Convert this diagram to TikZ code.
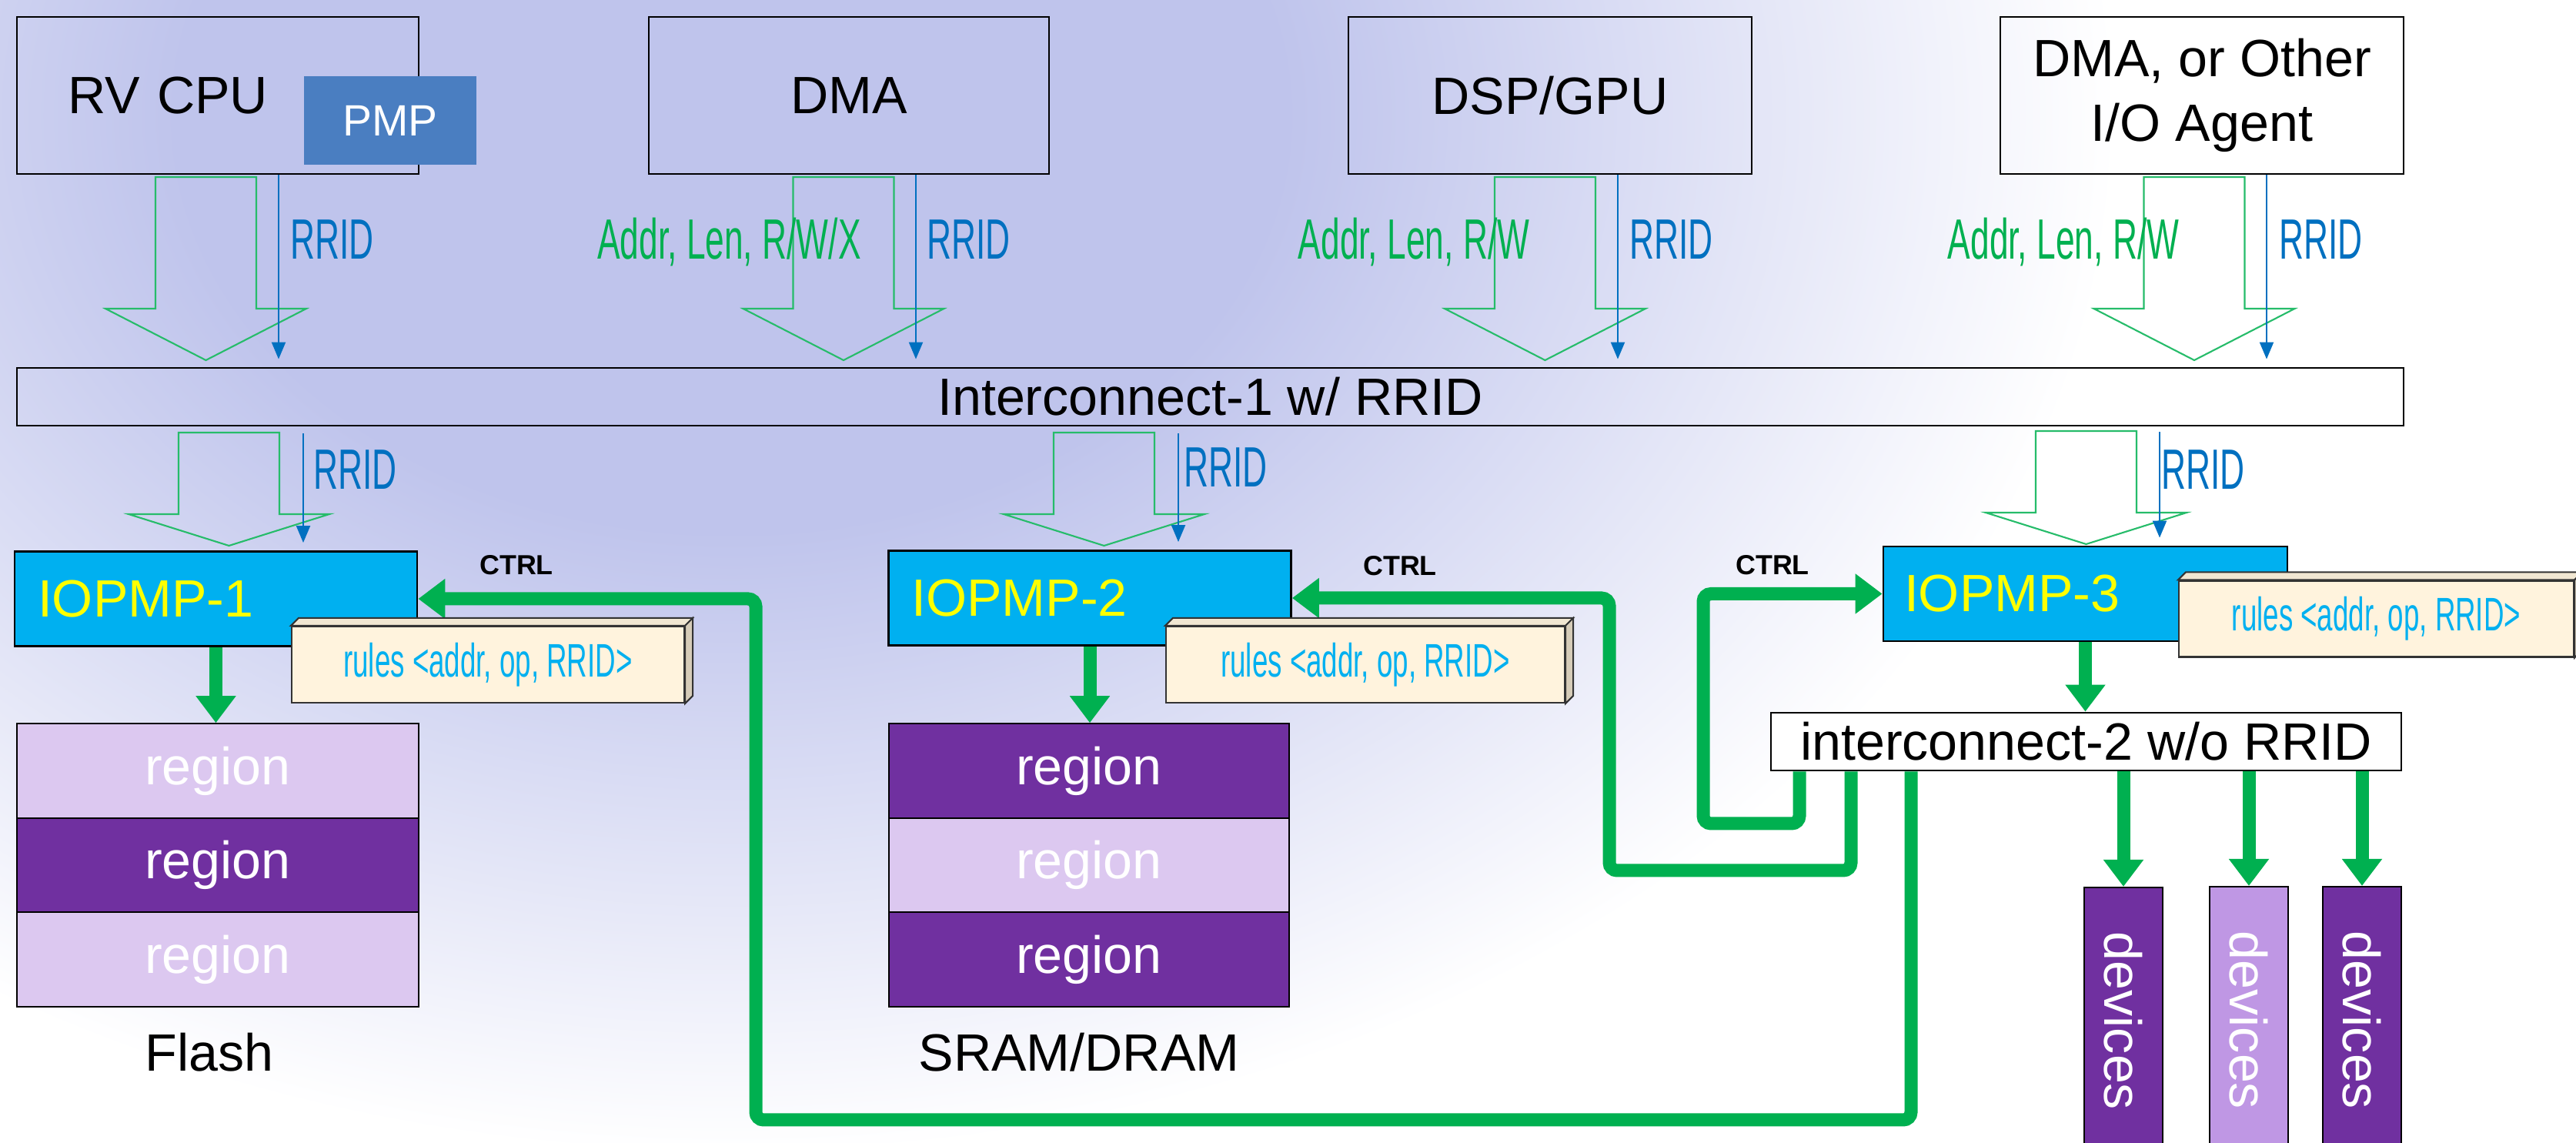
\documentclass[tikz,border=0pt]{standalone}
\usepackage{fontspec}
\setmainfont{Liberation Sans}
\newfontfamily\narrowfont[FakeStretch=0.6]{Liberation Sans}
\usepackage{tikz}
\usetikzlibrary{arrows.meta,positioning,calc}
\definecolor{bglav}{HTML}{BFC4EC}
\definecolor{flowgreen}{HTML}{00B050}
\definecolor{rridblue}{HTML}{0070C0}
\definecolor{pmpblue}{HTML}{4A7EC1}
\definecolor{iopmpcyan}{HTML}{00B0F0}
\definecolor{iopmptext}{HTML}{FFFF00}
\definecolor{rulecream}{HTML}{FFF3DD}
\definecolor{ruletop}{HTML}{F1E7D2}
\definecolor{ruleside}{HTML}{D6CCB8}
\definecolor{regdark}{HTML}{7030A0}
\definecolor{reglight}{HTML}{DCC8F0}
\definecolor{devlight}{HTML}{BF97E4}
\pgfdeclareradialshading{bgglow}{\pgfpointorigin}{color(0bp)=(bglav); color(10bp)=(bglav); color(25bp)=(white); color(50bp)=(white)}

\begin{document}
\begin{tikzpicture}[
  font=\fontsize{19.4pt}{23.9pt}\selectfont,
  agent/.style={draw=black, line width=0.8pt, inner xsep=0pt, inner ysep=0pt, minimum height=2.04cm, align=center},
  pmpbox/.style={fill=pmpblue, text=white, minimum width=2.24cm, minimum height=1.15cm, inner sep=0pt,
                 font=\fontsize{16.2pt}{19pt}\selectfont},
  bus/.style={draw=black, line width=0.8pt, inner sep=0pt, minimum height=0.75cm},
  iopmp/.style={draw=black, line width=0.8pt, fill=iopmpcyan, text=iopmptext, minimum height=1.23cm,
                inner ysep=0pt, inner xsep=0.30cm, align=left, text width=4.63cm},
  rules/.style={draw=black!80, line width=0.6pt, fill=rulecream, text=iopmpcyan, minimum height=0.99cm,
                inner sep=0pt, font=\narrowfont\fontsize{17.4pt}{20pt}\selectfont},
  ruletopface/.style={draw=black!80, line width=0.6pt, fill=ruletop},
  rulesideface/.style={draw=black!80, line width=0.6pt, fill=ruleside},
  region/.style={draw=black, line width=0.6pt, minimum width=5.22cm, minimum height=1.225cm, inner sep=0pt, text=white},
  device/.style={draw=black, line width=0.6pt, minimum width=1.02cm, minimum height=3.47cm, inner sep=0pt, text=white},
  memlbl/.style={inner sep=0pt},
  hollow/.style={draw=flowgreen!85!white, line width=0.6pt},
  rrid/.style={draw=rridblue, line width=0.6pt, shorten >=0.1cm, -{Triangle[length=0.22cm, width=0.18cm]}},
  flow/.style={draw=flowgreen, line width=0.17cm, -{Triangle[length=0.35cm, width=0.5cm]}},
  ctrl/.style={flow, rounded corners=0.1cm},
  rridlbl/.style={text=rridblue, font=\narrowfont\fontsize{21pt}{24pt}\selectfont, inner sep=0pt, anchor=base west},
  addrlbl/.style={text=flowgreen, font=\narrowfont\fontsize{21pt}{24pt}\selectfont, inner sep=0pt, anchor=base},
  ctrllbl/.style={font=\bfseries\fontsize{10.2pt}{12pt}\selectfont, inner sep=0pt},
]
\useasboundingbox (0,0) rectangle (33.47,-14.85);
\clip (0,0) rectangle (33.47,-14.85);
% background
\fill[white] (0,0) rectangle (33.47,-14.85);
\shade[shading=bgglow] (-8.5,-15) rectangle (27.5,12);

% I/O agents
\node[agent, minimum width=5.22cm, text width=3.90cm, inner xsep=0.66cm, align=left] (cpu) at (2.83,-1.24) {RV CPU};
\node[pmpbox] (pmp) at (5.07,-1.565) {PMP};
\node[agent, minimum width=5.20cm] (dma) at (11.03,-1.24) {DMA};
\node[agent, minimum width=5.24cm] (dsp) at (20.14,-1.24) {DSP/GPU};
\node[agent, minimum width=5.24cm] (oth) at (28.61,-1.24) {DMA, or Other\\I/O Agent};

\node[bus, minimum width=31.01cm] (ic1) at (15.725,-5.155) {Interconnect-1 w/ RRID};

% transactions into interconnect-1
\draw[hollow] (2.02,-2.30) -- (3.33,-2.30) -- (3.33,-4.01) -- (3.98,-4.01) -- (2.675,-4.68) -- (1.37,-4.01) -- (2.02,-4.01) -- cycle;
\draw[hollow] (10.305,-2.30) -- (11.615,-2.30) -- (11.615,-4.01) -- (12.265,-4.01) -- (10.96,-4.68) -- (9.655,-4.01) -- (10.305,-4.01) -- cycle;
\draw[hollow] (19.42,-2.30) -- (20.73,-2.30) -- (20.73,-4.01) -- (21.38,-4.01) -- (20.075,-4.68) -- (18.77,-4.01) -- (19.42,-4.01) -- cycle;
\draw[hollow] (27.855,-2.30) -- (29.165,-2.30) -- (29.165,-4.01) -- (29.815,-4.01) -- (28.51,-4.68) -- (27.205,-4.01) -- (27.855,-4.01) -- cycle;
\draw[rrid] (3.62,0 |- cpu.south) -- (3.62,0 |- ic1.north);
\draw[rrid] (11.90,0 |- dma.south) -- (11.90,0 |- ic1.north);
\draw[rrid] (21.02,0 |- dsp.south) -- (21.02,0 |- ic1.north);
\draw[rrid] (29.45,0 |- oth.south) -- (29.45,0 |- ic1.north);
\node[rridlbl] (rr1) at (3.77,-3.37) {RRID};
\node[addrlbl] (ad2) at (9.475,-3.37) {Addr, Len, R/W/X};
\node[rridlbl] (rr2) at (12.04,-3.37) {RRID};
\node[addrlbl] (ad3) at (18.37,-3.37) {Addr, Len, R/W};
\node[rridlbl] (rr3) at (21.17,-3.37) {RRID};
\node[addrlbl] (ad4) at (26.81,-3.37) {Addr, Len, R/W};
\node[rridlbl] (rr4) at (29.61,-3.37) {RRID};

% interconnect-1 to the IOPMPs
\draw[hollow] (2.32,-5.62) -- (3.63,-5.62) -- (3.63,-6.68) -- (4.28,-6.68) -- (2.975,-7.09) -- (1.67,-6.68) -- (2.32,-6.68) -- cycle;
\draw[hollow] (13.69,-5.62) -- (15.00,-5.62) -- (15.00,-6.68) -- (15.65,-6.68) -- (14.345,-7.09) -- (13.04,-6.68) -- (13.69,-6.68) -- cycle;
\draw[hollow] (26.45,-5.60) -- (27.76,-5.60) -- (27.76,-6.66) -- (28.41,-6.66) -- (27.105,-7.07) -- (25.80,-6.66) -- (26.45,-6.66) -- cycle;

\node[iopmp, minimum width=5.23cm] (io1) at (2.805,-7.78) {IOPMP-1};
\node[iopmp, minimum width=5.22cm] (io2) at (14.16,-7.77) {IOPMP-2};
\node[iopmp, minimum width=5.25cm, text width=4.71cm, inner xsep=0.27cm] (io3) at (27.095,-7.715) {IOPMP-3};

\draw[rrid, shorten <=0.09cm] (3.94,0 |- ic1.south) -- (3.94,0 |- io1.north);
\draw[rrid, shorten <=0.09cm] (15.31,0 |- ic1.south) -- (15.31,0 |- io2.north);
\draw[rrid, shorten <=0.07cm] (28.06,0 |- ic1.south) -- (28.06,0 |- io3.north);
\node[rridlbl] (rr5) at (4.07,-6.36) {RRID};
\node[rridlbl] (rr6) at (15.38,-6.33) {RRID};
\node[rridlbl] (rr7) at (28.08,-6.36) {RRID};

% memories and devices
\node[region, fill=reglight] (fl1) at (2.83,-10.015) {region};
\node[region, fill=regdark] (fl2) at (2.83,-11.24) {region};
\node[region, fill=reglight] (fl3) at (2.83,-12.465) {region};
\node[memlbl] (flash) at (2.72,-13.67) {Flash};
\node[region, fill=regdark, minimum width=5.20cm] (sr1) at (14.15,-10.015) {region};
\node[region, fill=reglight, minimum width=5.20cm] (sr2) at (14.15,-11.24) {region};
\node[region, fill=regdark, minimum width=5.20cm] (sr3) at (14.15,-12.465) {region};
\node[memlbl] (sram) at (14.02,-13.67) {SRAM/DRAM};

\node[bus, fill=white, minimum width=8.19cm] (ic2) at (27.105,-9.635) {interconnect-2 w/o RRID};
\node[device, fill=regdark] (dev1) at (27.59,-13.265) {\rotatebox{-90}{devices}};
\node[device, fill=devlight] (dev2) at (29.22,-13.255) {\rotatebox{-90}{devices}};
\node[device, fill=regdark] (dev3) at (30.69,-13.255) {\rotatebox{-90}{devices}};

\draw[flow] (io1.south) -- (io1.south |- fl1.north);
\draw[flow] (io2.south) -- (io2.south |- sr1.north);
\draw[flow] (io3.south) -- (io3.south |- ic2.north);
\draw[flow] (dev1.north |- ic2.south) -- (dev1.north);
\draw[flow] (dev2.north |- ic2.south) -- (dev2.north);
\draw[flow] (dev3.north |- ic2.south) -- (dev3.north);

% control paths back from interconnect-2
\draw[ctrl] (24.83,0 |- ic2.south) |- (9.82,-14.55) |- (io1.east);
\draw[ctrl] (24.05,0 |- ic2.south) |- (20.91,-11.31) |- (io2.east);
\draw[ctrl] (23.38,0 |- ic2.south) |- (22.13,-10.70) |- (io3.west);
\node[ctrllbl] (c1) at (6.71,-7.34) {CTRL};
\node[ctrllbl] (c2) at (18.19,-7.35) {CTRL};
\node[ctrllbl] (c3) at (23.03,-7.34) {CTRL};

% rule tables
\node[rules, minimum width=5.10cm] (rule1) at (6.34,-8.635) {rules <addr, op, RRID>};
\path[ruletopface] (rule1.north west) -- ++(0.1,0.1) -- ($(rule1.north east)+(0.1,0.1)$) -- (rule1.north east) -- cycle;
\path[rulesideface] (rule1.north east) -- ++(0.1,0.1) -- ($(rule1.south east)+(0.1,0.1)$) -- (rule1.south east) -- cycle;
\node[rules, minimum width=5.18cm] (rule2) at (17.74,-8.635) {rules <addr, op, RRID>};
\path[ruletopface] (rule2.north west) -- ++(0.1,0.1) -- ($(rule2.north east)+(0.1,0.1)$) -- (rule2.north east) -- cycle;
\path[rulesideface] (rule2.north east) -- ++(0.1,0.1) -- ($(rule2.south east)+(0.1,0.1)$) -- (rule2.south east) -- cycle;
\node[rules, minimum width=5.13cm] (rule3) at (30.875,-8.04) {rules <addr, op, RRID>};
\path[ruletopface] (rule3.north west) -- ++(0.1,0.1) -- ($(rule3.north east)+(0.1,0.1)$) -- (rule3.north east) -- cycle;
\path[rulesideface] (rule3.north east) -- ++(0.1,0.1) -- ($(rule3.south east)+(0.1,0.1)$) -- (rule3.south east) -- cycle;
\end{tikzpicture}
\end{document}
